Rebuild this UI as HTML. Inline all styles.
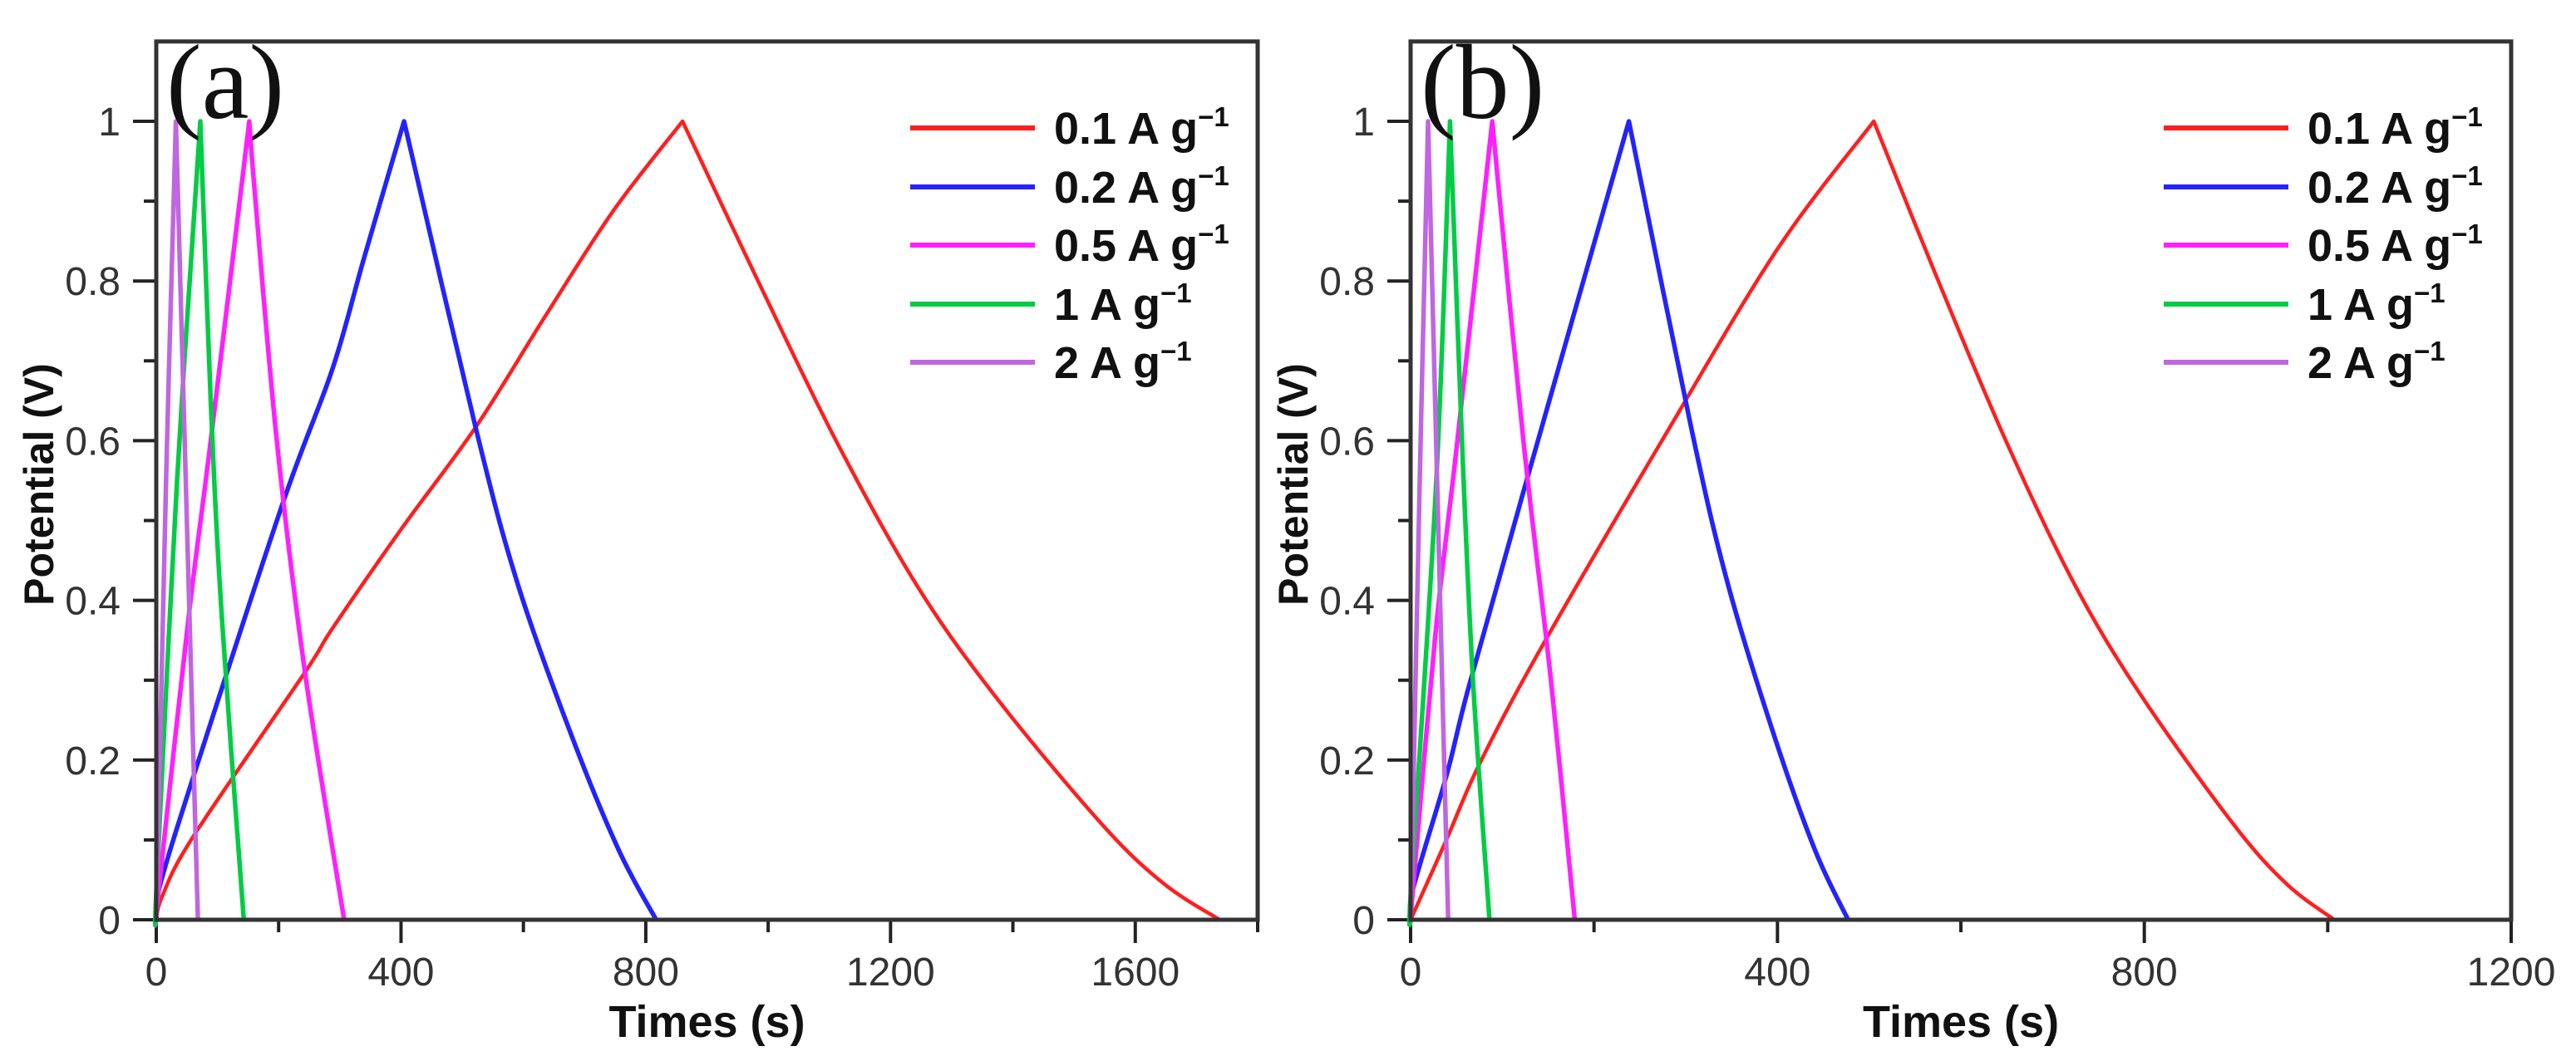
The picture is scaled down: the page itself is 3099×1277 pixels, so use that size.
<!DOCTYPE html>
<html><head><meta charset="utf-8"><style>
html,body{margin:0;padding:0;background:#fff;}
svg{display:block;font-family:"Liberation Sans",Arial,sans-serif;}
</style></head><body>
<svg id="chart" width="3099" height="1277" viewBox="0 0 3099 1277" xmlns="http://www.w3.org/2000/svg"></svg>
<script>
// ---- data ----
const seriesLabels = ["0.1 A g", "0.2 A g", "0.5 A g", "1 A g", "2 A g"];
const seriesColors = ["#ff1f1f", "#2323ff", "#ff1fff", "#00cc44", "#c066e0"];
const yTicks = [0, 0.2, 0.4, 0.6, 0.8, 1];
const yTickLabels = ["0", "0.2", "0.4", "0.6", "0.8", "1"];
const xTicksA = [0, 400, 800, 1200, 1600];
const xTicksB = [0, 400, 800, 1200];

// panel (a) times / potentials
const aRedT = [0,10,61,243,288,401,522,635,747,860,981,1111,1242,1371,1545,1647,1738];
const aRedV = [0,0.03,0.105,0.31,0.365,0.49,0.617,0.755,0.888,1,0.804,0.6,0.42,0.28,0.12,0.045,0];
const aBlueT = [0,5,61,206,288,340,405,522,591,678,756,817];
const aBlueV = [0,0.04,0.18,0.52,0.69,0.83,1,0.616,0.42,0.232,0.087,0];
const aMagT = [0,3,53,89,152,160,197,243,307];
const aMagV = [0,0.03,0.38,0.6,1,0.92,0.60,0.31,0];
const aGreenT = [0,1,34,72,89,107,143];
const aGreenV = [0,0.05,0.55,1,0.65,0.38,0];
const aPurpT = [0,16,32,50,68];
const aPurpV = [0,0.55,1,0.5,0];

// panel (b)
const bRedT = [0,39,75,142,274,400,505,574,649,724,797,897,955,1007];
const bRedV = [0,0.1,0.195,0.34,0.6,0.84,1,0.804,0.6,0.42,0.28,0.12,0.045,0];
const bBlueT = [0,3,39,63,123,238,306,346,396,441,477];
const bBlueV = [0,0.04,0.18,0.29,0.536,1,0.616,0.42,0.232,0.087,0];
const bMagT = [0,2,27,51,89,123,153,179];
const bMagV = [0,0.03,0.357,0.6,1,0.6,0.3,0];
const bGreenT = [0,1,28,43,56,68,86];
const bGreenV = [0,0.05,0.55,1,0.6,0.3,0];
const bPurpT = [0,10,19,30,41];
const bPurpV = [0,0.55,1,0.5,0];

const NS = "http://www.w3.org/2000/svg";
const svg = document.getElementById("chart");
function mk(tag, attrs, parent){
  const e = document.createElementNS(NS, tag);
  for (const k in attrs) e.setAttribute(k, attrs[k]);
  (parent||svg).appendChild(e);
  return e;
}
function smoothPath(pts){
  let peak = 0;
  pts.forEach((p, i) => { if (p[1] < pts[peak][1]) peak = i; });
  const segs = [pts.slice(0, peak + 1), pts.slice(peak)];
  let d = "M" + pts[0][0].toFixed(1) + "," + pts[0][1].toFixed(1);
  segs.forEach(s => {
    for (let i = 0; i < s.length - 1; i++) {
      const p0 = s[Math.max(0, i - 1)], p1 = s[i], p2 = s[i + 1], p3 = s[Math.min(s.length - 1, i + 2)];
      const c1 = [p1[0] + (p2[0] - p0[0]) / 6, p1[1] + (p2[1] - p0[1]) / 6];
      const c2 = [p2[0] - (p3[0] - p1[0]) / 6, p2[1] - (p3[1] - p1[1]) / 6];
      d += " C" + c1[0].toFixed(1) + "," + c1[1].toFixed(1) + " " + c2[0].toFixed(1) + "," + c2[1].toFixed(1) + " " + p2[0].toFixed(1) + "," + p2[1].toFixed(1);
    }
  });
  return d;
}

function panel(p){
  const g = mk("g", {});
  
  
  const x = t => p.x0 + t / p.xmax * (p.x1 - p.x0);
  const y = v => p.yBase - v * (p.yBase - p.y1);
  const yTop = y(1.1);
  for (let k = 0; k <= 10; k++) {
    const v = k / 10;
    const major = k % 2 === 0;
    const tk = mk("line", {x1: p.x0 - (major?28:15), x2: p.x0, y1: y(v), y2: y(v), stroke: "#222", "stroke-width": 4}, g);
    
    
  }
  yTicks.forEach((v, i) => {
    const t = mk("text", {x: p.x0 - 43, y: y(v) + 17, "text-anchor": "end", "font-size": 48, fill: "#333"}, g);
    t.textContent = yTickLabels[i];
    
    
  });
  for (let t = 0; t <= p.xmax; t += 200) {
    const major = t % 400 === 0;
    const tk = mk("line", {x1: x(t), x2: x(t), y1: p.yBase, y2: p.yBase + (major?28:15), stroke: "#222", "stroke-width": 4}, g);
    
    
  }
  p.xt.forEach(t => {
    const l = mk("text", {x: x(t), y: p.yBase + 79, "text-anchor": "middle", "font-size": 48, fill: "#333"}, g);
    l.textContent = String(t);
    
    
  });
  p.series.forEach((s, i) => {
    const pts = s[0].map((t, j) => [x(t), y(s[1][j])]);
    const path = mk("path", {d: smoothPath(pts), fill: "none", stroke: seriesColors[i], "stroke-width": i===0?4.5:5.5, "stroke-linejoin": "round"}, g);
    
    
  });
  const fr = mk("rect", {x: p.x0, y: yTop, width: p.x1 - p.x0, height: p.yBase - yTop, fill: "none", stroke: "#333", "stroke-width": 5}, g);
  
  
  const yl = mk("text", {x: 0, y: 0, transform: "translate(" + (p.x0 - 124) + ",583) rotate(-90)", "text-anchor": "middle", "font-size": 50, "font-weight": "bold", fill: "#111"}, g);
  yl.textContent = "Potential (V)";
  
  
  const xl = mk("text", {x: (p.x0 + p.x1) / 2, y: 1248, "text-anchor": "middle", "font-size": 54, "font-weight": "bold", fill: "#111"}, g);
  xl.textContent = "Times (s)";
  
  
  const pl = mk("text", {x: p.x0 + 12, y: 142, "font-size": 128, "font-family": "Liberation Serif, serif", fill: "#111"}, g);
  pl.textContent = "(" + p.id + ")";
  
  
  const lg = mk("g", {}, g);
  
  
  const ly = [154, 225, 295, 366, 436];
  seriesLabels.forEach((lab, i) => {
    const ln = mk("line", {x1: p.lx, x2: p.lx + 150, y1: ly[i], y2: ly[i], stroke: seriesColors[i], "stroke-width": 6}, lg);
    
    
    const tx = mk("text", {x: p.lx + 173, y: ly[i] + 19, "font-size": 54, "font-weight": "bold", fill: "#111"}, lg);
    tx.textContent = lab;
    const sup = mk("tspan", {dy: -21, "font-size": 33}, tx);
    sup.textContent = "\u22121";
    
    
  });
}

panel({id: "a", x0: 188, x1: 1513, xmax: 1800, yBase: 1107, y1: 146, xt: xTicksA, lx: 1095,
  series: [[aRedT, aRedV], [aBlueT, aBlueV], [aMagT, aMagV], [aGreenT, aGreenV], [aPurpT, aPurpV]]});
panel({id: "b", x0: 1697, x1: 3021, xmax: 1200, yBase: 1107, y1: 146, xt: xTicksB, lx: 2603,
  series: [[bRedT, bRedV], [bBlueT, bBlueV], [bMagT, bMagV], [bGreenT, bGreenV], [bPurpT, bPurpV]]});
</script>
</body></html>
